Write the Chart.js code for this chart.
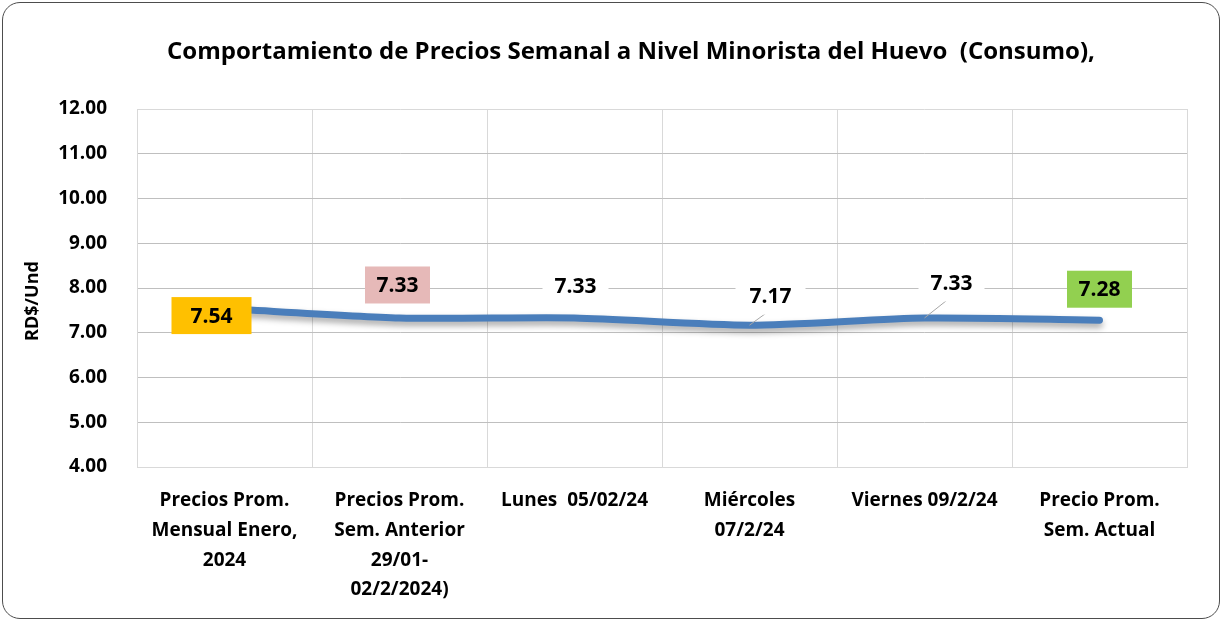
<!DOCTYPE html>
<html>
<head>
<meta charset="utf-8">
<script src="https://cdn.jsdelivr.net/npm/chart.js@4.4.1/dist/chart.umd.min.js"></script>
<style>
    html, body { margin: 0; padding: 0; background: #fff; }
    #wrap { position: relative; width: 1225px; height: 623px; }
    #frame { position: absolute; left: 2px; top: 2px; width: 1216px; height: 615px; border: 1.5px solid #4d4d4d; border-radius: 18px; pointer-events: none; }
    canvas { position: absolute; left: 0; top: 0; }
</style>
</head>
<body>
<div id="wrap">
    <canvas id="eggChart" width="1225" height="623"></canvas>
    <div id="frame"></div>
</div>
<script>
var chartTitle = "Comportamiento de Precios Semanal a Nivel Minorista del Huevo  (Consumo),";
var yAxisTitle = "RD$/Und";
var categories = [
    ["Precios Prom.", "Mensual Enero,", "2024"],
    ["Precios Prom.", "Sem. Anterior", "29/01-", "02/2/2024)"],
    ["Lunes  05/02/24"],
    ["Miércoles", "07/2/24"],
    ["Viernes 09/2/24"],
    ["Precio Prom.", "Sem. Actual"]
];
var prices = [7.54, 7.33, 7.33, 7.17, 7.33, 7.28];
var yMin = 4;
var yMax = 12;
var yStep = 1;

// label look, one entry per point
var labelBoxColors = ["#ffc000", "#e6b9b8", "#ffffff", "#ffffff", "#ffffff", "#92d050"];
var labelBoxWidths = [80, 65, 66, 70, 66, 65];
var labelOffsets = [[-13, 7], [-2, -33], [1, -32], [21, -29], [27, -35], [0, -31]];
var labelLeaders = [false, false, false, true, true, false];

var fontFamily = "'Open Sans', Lato, sans-serif";
Chart.defaults.font.family = fontFamily;
Chart.defaults.color = "#000";

var decorPlugin = {
    id: "decor",
    beforeDatasetDraw: function (chart) {
        var ctx = chart.ctx;
        ctx.save();
        ctx.shadowColor = "rgba(0,0,0,0.35)";
        ctx.shadowBlur = 6;
        ctx.shadowOffsetY = 4;
    },
    afterDatasetDraw: function (chart) {
        chart.ctx.restore();
    },
    afterDatasetsDraw: function (chart) {
        var ctx = chart.ctx;
        var meta = chart.getDatasetMeta(0);
        ctx.save();
        meta.data.forEach(function (pt, i) {
            var lx = pt.x + labelOffsets[i][0];
            var ly = pt.y + labelOffsets[i][1];
            if (labelLeaders[i]) {
                ctx.strokeStyle = "#a6a6a6";
                ctx.lineWidth = 1;
                ctx.beginPath();
                ctx.moveTo(lx - 3, ly + 16);
                ctx.lineTo(pt.x, pt.y);
                ctx.stroke();
            }
            ctx.fillStyle = labelBoxColors[i];
            var w = labelBoxWidths[i];
            var h = 37;
            ctx.fillRect(lx - w / 2, ly - h / 2, w, h);
            ctx.fillStyle = "#000";
            ctx.font = "bold 21px " + fontFamily;
            ctx.textAlign = "center";
            ctx.textBaseline = "middle";
            ctx.fillText(prices[i].toFixed(2), lx, ly + 1);
        });

        // chart title
        ctx.font = "bold 24px " + fontFamily;
        ctx.textAlign = "center";
        ctx.textBaseline = "middle";
        ctx.fillText(chartTitle, 631, 52);

        // y axis title
        ctx.translate(33, 301);
        ctx.rotate(-Math.PI / 2);
        ctx.font = "bold 18px " + fontFamily;
        ctx.fillText(yAxisTitle, 0, 0);
        ctx.restore();
    }
};

var eggChart = new Chart("eggChart", {
    type: "line",
    data: {
        labels: categories,
        datasets: [{
            data: prices,
            borderColor: "#4a7ebb",
            borderWidth: 7,
            borderCapStyle: "round",
            borderJoinStyle: "round",
            tension: 0.25,
            pointRadius: 0,
            fill: false
        }]
    },
    options: {
        responsive: false,
        animation: false,
        layout: {
            padding: { left: 18, right: 38, top: 109, bottom: 0 }
        },
        plugins: {
            legend: { display: false },
            title: { display: false },
            tooltip: { enabled: false }
        },
        scales: {
            x: {
                offset: true,
                grid: { offset: true, color: "#d9d9d9", drawTicks: false },
                border: { color: "#d9d9d9" },
                ticks: {
                    autoSkip: false,
                    maxRotation: 0,
                    padding: 19,
                    font: { size: 19, weight: "bold", lineHeight: 1.56 }
                },
                afterFit: function (scale) { scale.height = 156; }
            },
            y: {
                min: yMin,
                max: yMax,
                grid: {
                    drawTicks: false,
                    color: function (c) {
                        return (c.tick && (c.tick.value === yMax || c.tick.value === yMin)) ? "#d9d9d9" : "#bfbfbf";
                    }
                },
                border: { color: "#d9d9d9" },
                ticks: {
                    stepSize: yStep,
                    padding: 30,
                    font: { size: 19, weight: "bold" },
                    callback: function (v) { return v.toFixed(2); }
                },
                afterFit: function (scale) { scale.width = 119; }
            }
        }
    },
    plugins: [decorPlugin]
});
</script>
</body>
</html>
